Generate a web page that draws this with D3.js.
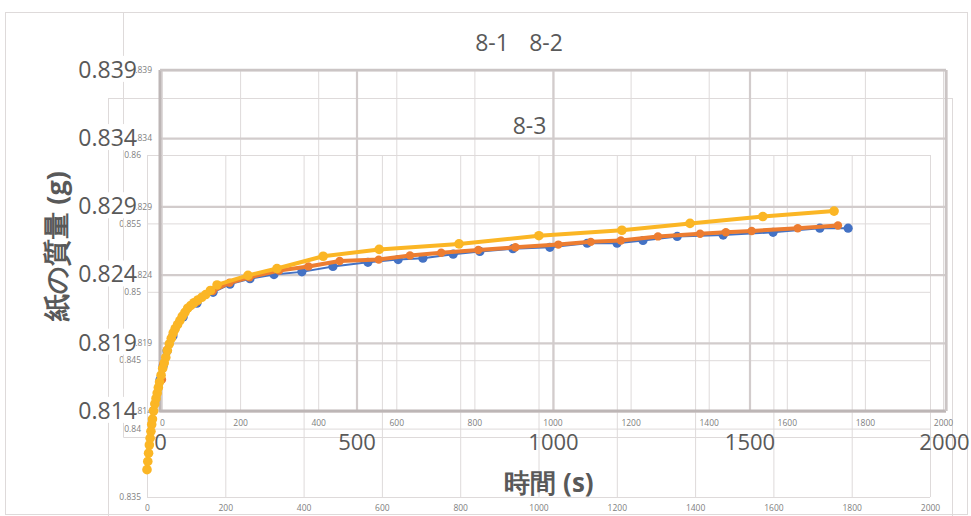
<!DOCTYPE html>
<html>
<head>
<meta charset="utf-8">
<script src="https://cdn.jsdelivr.net/npm/d3@7"></script>
<style>
  html, body { margin: 0; padding: 0; background: #ffffff; }
  svg { display: block; }
  text { font-family: "Open Sans", "Noto Sans", sans-serif; }
</style>
</head>
<body>
<svg id="chart" width="971" height="516"></svg>
<script>
// ---- data: paper mass over time for three samples ----
const titles = ["8-1", "8-2", "8-3"];

const time81 = [0, 8, 18, 33, 59, 94, 135, 178, 229, 290, 361, 440, 529, 606, 669, 746, 814, 898, 992, 1087, 1163, 1229, 1316, 1433, 1560, 1679, 1751];
const mass81 = [0.8163, 0.8173, 0.8184, 0.8195, 0.8209, 0.8219, 0.8227, 0.8233, 0.8237, 0.8240, 0.8242, 0.8246, 0.8249, 0.8251, 0.8252, 0.8255, 0.8257, 0.8259, 0.8260, 0.8263, 0.8263, 0.8265, 0.8268, 0.8269, 0.8271, 0.8274, 0.8274];

const time82 = [0, 3, 13, 28, 54, 89, 130, 173, 224, 300, 375, 455, 555, 635, 715, 810, 905, 1015, 1098, 1175, 1270, 1378, 1444, 1510, 1628, 1731];
const mass82 = [0.8163, 0.8174, 0.8185, 0.8196, 0.8210, 0.8220, 0.8228, 0.8234, 0.8238, 0.8243, 0.8246, 0.8250, 0.8251, 0.8254, 0.8256, 0.8258, 0.8260, 0.8262, 0.8264, 0.8265, 0.8268, 0.8270, 0.8271, 0.8272, 0.8274, 0.8276];

const time83 = [0, 2, 4, 6, 8, 10, 12, 14, 17, 20, 23, 26, 29, 32, 36, 40, 44, 48, 52, 57, 62, 67, 72, 78, 84, 90, 97, 104, 112, 120, 130, 140, 150, 162, 179, 258, 332, 450, 593, 797, 1001, 1213, 1387, 1573, 1755];
const mass83 = [0.8370, 0.8376, 0.8382, 0.8388, 0.8393, 0.8398, 0.8403, 0.8407, 0.8413, 0.8418, 0.8422, 0.8426, 0.8430, 0.8434, 0.8439, 0.8444, 0.8448, 0.8452, 0.8457, 0.8462, 0.8466, 0.8470, 0.8473, 0.8476, 0.8479, 0.8482, 0.8485, 0.8488, 0.8490, 0.8492, 0.8494, 0.8496, 0.8498, 0.8501, 0.8505, 0.8512, 0.8517, 0.8526, 0.8531, 0.8535, 0.8541, 0.8545, 0.8550, 0.8555, 0.8559];

// ---- tick values ----
const ticksTimeMajor = [0, 500, 1000, 1500, 2000];
const ticksTimeMinor = [0, 200, 400, 600, 800, 1000, 1200, 1400, 1600, 1800, 2000];
const ticksMassLow = [0.814, 0.819, 0.824, 0.829, 0.834, 0.839];
const ticksMassHigh = [0.835, 0.84, 0.845, 0.85, 0.855, 0.86];

const yTitle = "紙の質量 (g)";
const xTitle = "時間 (s)";

const colors = { s81: "#4472C4", s82: "#ED7D31", s83: "#FBB625" };
const textGray = "#595959";
const smallGray = "#808080";
const gridLight = "#dedada";
const gridHeavy = "#d2cccc";

const svg = d3.select("#chart");

// ---- scales for the three stacked panels ----
const xA = d3.scaleLinear().domain([0, 2000]).range([160, 946]);
const yA = d3.scaleLinear().domain([0.814, 0.839]).range([411, 70]);
const xB = d3.scaleLinear().domain([0, 2000]).range([162, 943]);
const yB = d3.scaleLinear().domain([0.814, 0.839]).range([411, 70]);
const xC = d3.scaleLinear().domain([0, 2000]).range([147, 930]);
const yC = d3.scaleLinear().domain([0.835, 0.86]).range([497, 155]);

const fmt = v => String(+v.toFixed(3));
const smallText = g => g.selectAll("text").attr("font-size", 8.5).attr("fill", smallGray).attr("font-family", "Open Sans");

// ===== panel 8-3 (bottom layer) =====
const gC = svg.append("g");
gC.append("rect").attr("x", 108.5).attr("y", 98.5).attr("width", 844).attr("height", 440)
  .attr("fill", "none").attr("stroke", "#dedada");
gC.append("text").attr("x", 529.5).attr("y", 125).attr("text-anchor", "middle")
  .attr("dominant-baseline", "central").attr("font-size", 23).attr("fill", textGray).text(titles[2]);

gC.append("g").attr("transform", "translate(0,497)")
  .call(d3.axisBottom(xC).tickValues(ticksTimeMinor).tickSize(-(497 - 155)).tickPadding(8).tickFormat(d3.format("d")))
  .call(g => g.select(".domain").remove())
  .call(g => g.selectAll("line").attr("stroke", gridLight))
  .call(smallText);
gC.append("g").attr("transform", "translate(147,0)")
  .call(d3.axisLeft(yC).tickValues(ticksMassHigh).tickSize(-(930 - 147)).tickPadding(6).tickFormat(fmt))
  .call(g => g.select(".domain").remove())
  .call(g => g.selectAll("line").attr("stroke", gridLight))
  .call(smallText);

// ===== panel 8-2 (middle layer) =====
const gB = svg.append("g");
gB.append("path").attr("d", "M123.5,12 V437.5 H967").attr("fill", "none").attr("stroke", "#dedada");
gB.append("g").attr("transform", "translate(0,411)")
  .call(d3.axisBottom(xB).tickValues(ticksTimeMinor).tickSize(-(411 - 70)).tickPadding(9).tickFormat(d3.format("d")))
  .call(g => g.select(".domain").remove())
  .call(g => g.selectAll("line").attr("stroke", gridLight))
  .call(smallText);
gB.append("g").attr("transform", "translate(160,0)")
  .call(d3.axisLeft(yB).tickValues(ticksMassLow).tickSize(0).tickPadding(8).tickFormat(fmt))
  .call(g => g.select(".domain").remove())
  .call(smallText);

// ===== panel 8-1 (top layer with the large axes) =====
const gA = svg.append("g");
gA.append("rect").attr("x", 5.5).attr("y", 12.5).attr("width", 962).attr("height", 502)
  .attr("fill", "none").attr("stroke", "#dedada");
gA.append("text").attr("x", 492).attr("y", 42).attr("text-anchor", "middle")
  .attr("dominant-baseline", "central").attr("font-size", 23).attr("fill", textGray).text(titles[0]);
gA.append("text").attr("x", 546).attr("y", 42).attr("text-anchor", "middle")
  .attr("dominant-baseline", "central").attr("font-size", 23).attr("fill", textGray).text(titles[1]);

// heavy grid with large labels
gA.append("g").attr("transform", "translate(0,411)")
  .call(d3.axisBottom(xA).tickValues(ticksTimeMajor).tickSize(-(411 - 70)).tickPadding(23).tickFormat(d3.format("d")))
  .call(g => g.select(".domain").remove())
  .call(g => g.selectAll("line").attr("stroke", gridHeavy).attr("stroke-width", 2.2))
  .call(g => g.selectAll("text").attr("font-size", 22).attr("fill", textGray).attr("font-family", "Open Sans"))
  .call(g => g.selectAll(".tick text").filter(d => d === 2000).attr("dx", -2));
const yAxisA = gA.append("g").attr("transform", "translate(160,0)")
  .call(d3.axisLeft(yA).tickValues(ticksMassLow).tickSize(-(946 - 160)).tickPadding(23).tickFormat(fmt))
  .call(g => g.select(".domain").remove())
  .call(g => g.selectAll("line").attr("stroke", gridHeavy).attr("stroke-width", 2.2))
  .call(g => g.selectAll("text").attr("font-size", 23).attr("fill", textGray).attr("font-family", "Open Sans"));

// white boxes behind the large mass labels
yAxisA.selectAll(".tick").each(function () {
  const t = d3.select(this).select("text");
  const bb = t.node().getBBox();
  d3.select(this).insert("rect", "text")
    .attr("x", bb.x).attr("y", bb.y + 3).attr("width", bb.width - 1).attr("height", bb.height - 6)
    .attr("fill", "#ffffff");
});

// plot frame: axis lines
gA.append("path").attr("d", "M160,70 V411 H946").attr("fill", "none").attr("stroke", "#bdb6b6").attr("stroke-width", 3);
gA.append("line").attr("x1", 160).attr("x2", 946).attr("y1", 70).attr("y2", 70).attr("stroke", "#cbc5c5").attr("stroke-width", 2.5);
gA.append("line").attr("x1", 946).attr("x2", 946).attr("y1", 70).attr("y2", 411).attr("stroke", "#cbc5c5").attr("stroke-width", 2.5);

// axis titles
gA.append("text").attr("transform", "translate(55,246) rotate(-90)")
  .attr("text-anchor", "middle").attr("dominant-baseline", "central")
  .attr("font-family", "Noto Sans CJK JP").attr("font-weight", "bold")
  .attr("font-size", 27).attr("fill", textGray).text(yTitle);
gA.append("text").attr("x", 549).attr("y", 482)
  .attr("text-anchor", "middle").attr("dominant-baseline", "central")
  .attr("font-family", "Noto Sans CJK JP").attr("font-weight", "bold")
  .attr("font-size", 26).attr("fill", textGray).text(xTitle);

// ===== series =====
function drawSeries(times, masses, xs, ys, color, lw, r) {
  const pts = times.map((t, i) => [t, masses[i]]);
  const g = svg.append("g");
  g.append("path").datum(pts)
    .attr("d", d3.line().x(d => xs(d[0])).y(d => ys(d[1])))
    .attr("fill", "none").attr("stroke", color).attr("stroke-width", lw)
    .attr("stroke-linejoin", "round");
  g.selectAll("circle").data(pts).join("circle")
    .attr("cx", d => xs(d[0])).attr("cy", d => ys(d[1])).attr("r", r)
    .attr("fill", color);
}

drawSeries(time81, mass81, xA, yA, colors.s81, 2, 4.6);
drawSeries(time82, mass82, xB, yB, colors.s82, 4, 4.2);
drawSeries(time83, mass83, xC, yC, colors.s83, 4, 4.8);
</script>
</body>
</html>
